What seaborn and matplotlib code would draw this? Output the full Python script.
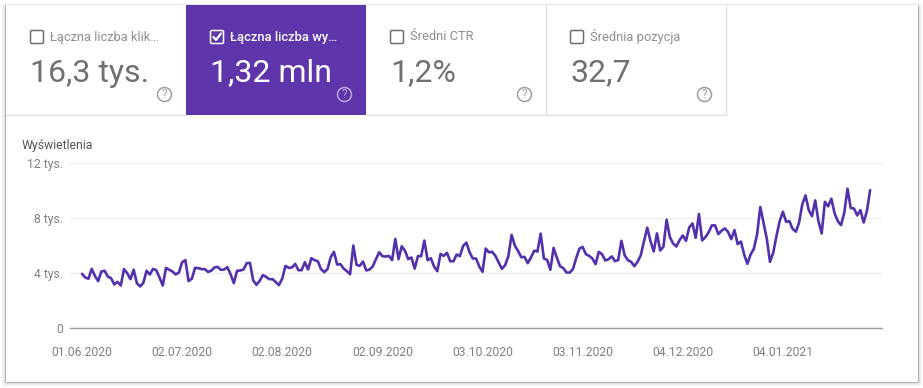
import numpy as np
import pandas as pd
import matplotlib
matplotlib.use('Agg')
import matplotlib.pyplot as plt
from matplotlib.patches import Rectangle, FancyBboxPatch, Circle
import seaborn as sns

# dzienne wyswietlenia
impressions = [
    3930, 3660, 3570, 4290, 3780, 3400, 4100, 4150, 3730, 3610, 3160, 3350, 3080, 4270, 3980,
    3540, 4220, 3250, 3010, 3280, 4150, 3880, 4290, 4190, 3660, 3080, 4360, 4220, 4100, 3880,
    4020, 4770, 4920, 3400, 3570, 4360, 4340, 4270, 4270, 4070, 4150, 4390, 4430, 4220, 4240,
    4410, 3900, 3250, 4150, 4170, 4240, 4700, 4720, 3450, 3130, 3420, 3830, 3710, 3540, 3540,
    3330, 3110, 3590, 4500, 4360, 4390, 4650, 4190, 4190, 4770, 4240, 5060, 4920, 4840, 4270,
    4050, 4270, 5130, 5520, 4600, 4630, 4310, 4120, 3900, 5980, 4580, 4510, 4820, 4170, 4240,
    4460, 4990, 5490, 5210, 5180, 5230, 4920, 6460, 4990, 5930, 5590, 4990, 5110, 4310, 5210,
    5210, 6340, 4920, 5060, 4460, 4120, 5370, 5230, 5450, 4840, 4840, 5330, 5210, 5950, 6190,
    5490, 5040, 5040, 4460, 4070, 5760, 5490, 5520, 5230, 4750, 4290, 4550, 5210, 6750, 5980,
    5590, 5130, 5160, 4700, 5110, 5610, 5540, 6840, 5040, 4940, 4220, 5810, 5110, 4480, 4340,
    4020, 4020, 4270, 5060, 5760, 5880, 5350, 5230, 5040, 4630, 5520, 5350, 4900, 4980, 5190,
    4850, 4920, 6320, 5280, 4920, 4800, 4480, 4800, 5280, 6300, 7270, 6300, 5550, 6860, 5620,
    5890, 7850, 6590, 6130, 5910, 6370, 6710, 6320, 7290, 7580, 6540, 8260, 6350, 6590, 6930,
    7440, 7440, 6810, 7050, 7220, 6980, 6440, 7100, 6080, 6270, 5330, 4650, 5330, 5740, 6780,
    8770, 7630, 6490, 4800, 5450, 6660, 7750, 8430, 7700, 7750, 7190, 6980, 7630, 8960, 9610,
    8550, 8110, 9250, 7750, 6860, 9150, 8820, 9370, 8310, 7750, 7460, 8360, 10100, 8690, 8670,
    8160, 8550, 7650, 8480, 10000,
]
start_date = '2020-06-01'
x_tick_dates = ['2020-06-01', '2020-07-02', '2020-08-02', '2020-09-02',
                '2020-10-03', '2020-11-03', '2020-12-04', '2021-01-04']
x_tick_labels = ['01.06.2020', '02.07.2020', '02.08.2020', '02.09.2020',
                 '03.10.2020', '03.11.2020', '04.12.2020', '04.01.2021']
y_ticks = [0, 4000, 8000, 12000]
y_tick_labels = ['0', '4 tys.', '8 tys.', '12 tys.']

tile_titles = ['Łączna liczba klik…', 'Łączna liczba wy…', 'Średni CTR', 'Średnia pozycja']
tile_values = ['16,3 tys.', '1,32 mln', '1,2%', '32,7']
tile_left = [6, 186, 366, 546]
tile_selected = 1

W, H = 923, 388
PURPLE = '#5e35ab'
LINE = '#5331ad'
GREY = '#808080'

sns.set_theme(style='white')
plt.rcParams['font.family'] = ['Roboto', 'DejaVu Sans']

fig = plt.figure(figsize=(W / 100, H / 100), dpi=100, facecolor='white')

# warstwa z karta i kafelkami, w pikselach
bg = fig.add_axes([0, 0, 1, 1], zorder=0)
bg.set_xlim(0, W)
bg.set_ylim(H, 0)
bg.axis('off')

# cien karty: mocniejszy na dole, slaby u gory
shadow = [(4, 1.5, 4, '#f6f6f6'), (3, 1, 3, '#efefef'), (2, 0.5, 2, '#e2e2e2'), (1, 0, 1, '#b4b4b4')]
for side, up, down, col in shadow:
    bg.add_patch(FancyBboxPatch((6 - side, 5 - up), 912 + 2 * side, 377 + up + down,
                                boxstyle='round,pad=0,rounding_size=2', fc=col, lw=0))
bg.add_patch(Rectangle((6, 5), 912, 377, fc='white', lw=0))

bg.add_patch(Rectangle((tile_left[tile_selected], 5), 180, 110, fc=PURPLE, lw=0))
bg.plot([6, 186], [114.5, 114.5], color='#e0e0e0', lw=1)
bg.plot([366, 725.5], [114.5, 114.5], color='#e0e0e0', lw=1)
bg.plot([545.5, 545.5], [5, 115], color='#e0e0e0', lw=1)
bg.plot([725.5, 725.5], [5, 115], color='#e0e0e0', lw=1)

for i, left in enumerate(tile_left):
    sel = i == tile_selected
    edge = 'white' if sel else '#6f6f6f'
    bg.add_patch(FancyBboxPatch((left + 24.5, 30.5), 13, 13, boxstyle='round,pad=0,rounding_size=1.5',
                                fc='none', ec=edge, lw=1.1))
    if sel:
        bg.plot([left + 27.5, left + 30, left + 35], [37, 40, 33.5], color='white', lw=1.6)
    bg.text(left + 44, 37, tile_titles[i], color='white' if sel else '#8e8e8e', fontsize=9.3,
            fontweight='medium' if sel else 'normal', va='center', ha='left')
    bg.text(left + 24, 73, tile_values[i], color='white' if sel else '#707070', fontsize=23,
            va='center', ha='left')
    # ikonka pomocy
    help_col = '#b9a7dc' if sel else '#9e9e9e'
    bg.add_patch(Circle((left + 158.5, 94.5), 7, fc='none', ec=help_col, lw=1.1))
    bg.text(left + 158.5, 95, '?', color=help_col, fontsize=8.5, va='center', ha='center')

bg.text(22, 145, 'Wyświetlenia', color='#555555', fontsize=8.8, va='center', ha='left')

# wykres
ax_left, ax_right, ax_top, ax_bottom = 70, 882, 162.5, 328
ax = fig.add_axes([ax_left / W, 1 - ax_bottom / H, (ax_right - ax_left) / W, (ax_bottom - ax_top) / H], zorder=1)
ax.patch.set_alpha(0)

dates = pd.date_range(start_date, periods=len(impressions), freq='D')
data = pd.DataFrame({'date': dates, 'impressions': impressions})
sns.lineplot(data=data, x='date', y='impressions', color=LINE, lw=1.9, ax=ax)

day_px = 3.23
first = pd.Timestamp(start_date)
ax.set_xlim(first - pd.Timedelta(days=(82 - ax_left) / day_px),
            first + pd.Timedelta(days=(ax_right - 82) / day_px))
ax.set_ylim(0, 12000)
ax.set_xticks(pd.to_datetime(x_tick_dates))
ax.set_xticklabels(x_tick_labels)
ax.set_yticks(y_ticks)
ax.set_yticklabels(y_tick_labels)
ax.set_xlabel('')
ax.set_ylabel('')
ax.grid(axis='y', color='#eeeeee', lw=1)
ax.set_axisbelow(True)
ax.tick_params(axis='x', length=0, pad=13, labelsize=8.7, labelcolor=GREY)
ax.tick_params(axis='y', length=0, pad=5, labelsize=8.7, labelcolor=GREY)
sns.despine(ax=ax, left=True, right=True, top=True)
ax.spines['bottom'].set_color('#9e9e9e')
ax.spines['bottom'].set_linewidth(1)

fig.savefig('out.png', dpi=100)
